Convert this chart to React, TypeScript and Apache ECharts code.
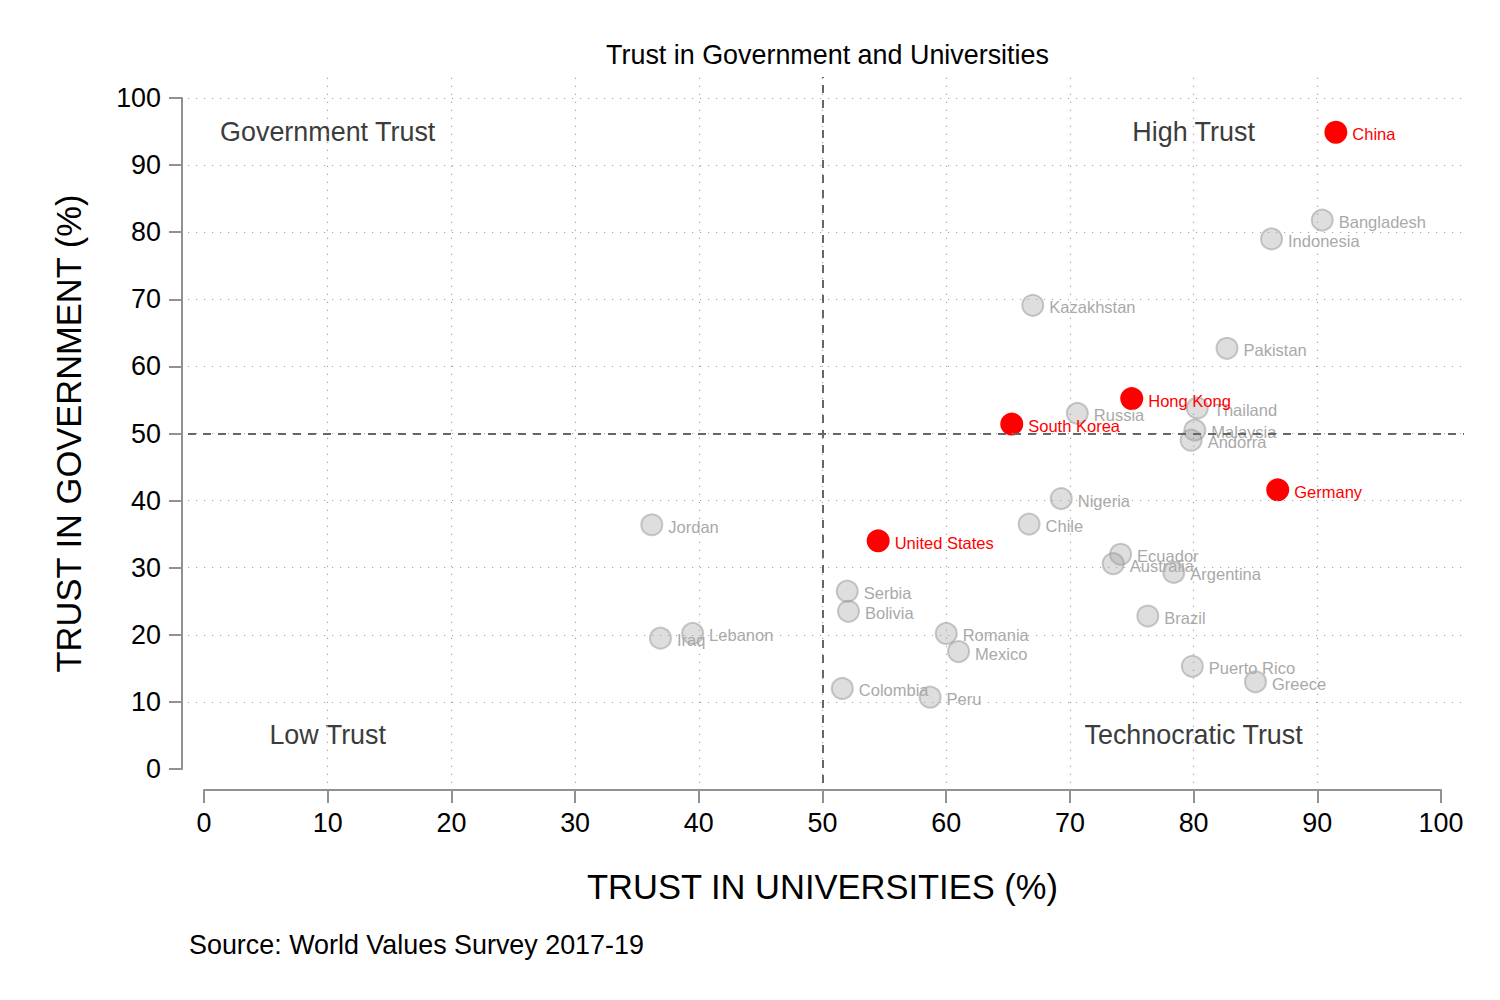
import React, { useEffect, useRef } from "react";
import * as echarts from "echarts";

// ---------- data ----------
const grayCountries = [
  "Bangladesh", "Indonesia", "Kazakhstan", "Pakistan", "Thailand", "Russia",
  "Malaysia", "Andorra", "Nigeria", "Jordan", "Chile", "Ecuador", "Australia",
  "Argentina", "Serbia", "Bolivia", "Brazil", "Lebanon", "Romania", "Iraq",
  "Mexico", "Puerto Rico", "Greece", "Colombia", "Peru",
];
const grayUniversities = [
  90.4, 86.3, 67.0, 82.7, 80.3, 70.6,
  80.1, 79.8, 69.3, 36.2, 66.7, 74.1, 73.5,
  78.4, 52.0, 52.1, 76.3, 39.5, 60.0, 36.9,
  61.0, 79.9, 85.0, 51.6, 58.7,
];
const grayGovernment = [
  81.8, 79.0, 69.1, 62.7, 53.8, 53.0,
  50.5, 49.0, 40.3, 36.4, 36.5, 32.0, 30.6,
  29.3, 26.5, 23.5, 22.8, 20.2, 20.2, 19.5,
  17.5, 15.3, 13.0, 12.0, 10.7,
];

const redCountries = ["China", "Hong Kong", "South Korea", "Germany", "United States"];
const redUniversities = [91.5, 75.0, 65.3, 86.8, 54.5];
const redGovernment = [94.9, 55.2, 51.4, 41.6, 34.0];

const quadrantNames = ["Government Trust", "High Trust", "Low Trust", "Technocratic Trust"];
const quadrantX = [10, 80, 10, 80];
const quadrantY = [95, 95, 5, 5];

const gridLinesX = [10, 20, 30, 40, 50, 60, 70, 80, 90];
const gridLinesY = [10, 20, 30, 40, 50, 60, 70, 80, 90, 100];
const referenceX = 50;
const referenceY = 50;

const titleText = "Trust in Government and Universities";
const xAxisTitle = "TRUST IN UNIVERSITIES (%)";
const yAxisTitle = "TRUST IN GOVERNMENT (%)";
const sourceText = "Source: World Values Survey 2017-19";

// ---------- layout ----------
const FONT = "'Liberation Sans', Arial, Helvetica, sans-serif";
const PLOT = { l: 204, r: 1441, t: 98, b: 769 };
const EXT = { l: 188, r: 1464, t: 77, b: 783 };
const pxX = (PLOT.r - PLOT.l) / 100;
const pxY = (PLOT.b - PLOT.t) / 100;
const extXMin = -(PLOT.l - EXT.l) / pxX;
const extXMax = 100 + (EXT.r - PLOT.r) / pxX;
const extYMin = -(EXT.b - PLOT.b) / pxY;
const extYMax = 100 + (PLOT.t - EXT.t) / pxY;
const AXIS_GRAY = "#919191";
const BIG = 26.9;

export default function App() {
  const ref = useRef<HTMLDivElement>(null);

  useEffect(() => {
    if (!ref.current) return;
    const chart = echarts.init(ref.current, undefined, { renderer: "svg" });

    const grayData = grayCountries.map((n, i) => ({
      name: n,
      value: [grayUniversities[i], grayGovernment[i]],
    }));
    const redData = redCountries.map((n, i) => ({
      name: n,
      value: [redUniversities[i], redGovernment[i]],
    }));
    const quadData = quadrantNames.map((n, i) => ({
      name: n,
      value: [quadrantX[i], quadrantY[i]],
    }));

    const dotted = { type: [1.2, 6.8] as any, color: "#a8a8a8", width: 1.2 };
    const dashed = { type: [8, 7] as any, color: "#666666", width: 2 };

    const option: any = {
      animation: false,
      backgroundColor: "#ffffff",
      textStyle: { fontFamily: FONT },
      title: {
        text: titleText,
        left: (PLOT.l + PLOT.r) / 2,
        textAlign: "center",
        top: 36,
        textStyle: { fontSize: BIG, fontWeight: "normal", color: "#000", fontFamily: FONT },
      },
      grid: [
        { left: PLOT.l, top: PLOT.t, width: PLOT.r - PLOT.l, height: PLOT.b - PLOT.t },
        { left: EXT.l, top: EXT.t, width: EXT.r - EXT.l, height: EXT.b - EXT.t },
      ],
      xAxis: [
        {
          gridIndex: 0,
          type: "value",
          min: 0,
          max: 100,
          interval: 10,
          offset: 21,
          axisLine: { show: true, onZero: false, lineStyle: { color: AXIS_GRAY, width: 2 } },
          axisTick: { show: true, length: 13, lineStyle: { color: AXIS_GRAY, width: 2 } },
          axisLabel: { margin: 19, fontSize: BIG, color: "#000", fontFamily: FONT },
          splitLine: { show: false },
          name: xAxisTitle,
          nameLocation: "middle",
          nameGap: 79,
          nameTextStyle: { fontSize: 34.5, color: "#000", fontFamily: FONT },
        },
        { gridIndex: 1, type: "value", min: extXMin, max: extXMax, show: false },
      ],
      yAxis: [
        {
          gridIndex: 0,
          type: "value",
          min: 0,
          max: 100,
          interval: 10,
          offset: 22,
          axisLine: { show: true, onZero: false, lineStyle: { color: AXIS_GRAY, width: 2 } },
          axisTick: { show: true, length: 13, lineStyle: { color: AXIS_GRAY, width: 2 } },
          axisLabel: { margin: 21, fontSize: BIG, color: "#000", fontFamily: FONT },
          splitLine: { show: false },
          name: yAxisTitle,
          nameLocation: "middle",
          nameGap: 96,
          nameTextStyle: { fontSize: 34.5, color: "#000", fontFamily: FONT },
        },
        { gridIndex: 1, type: "value", min: extYMin, max: extYMax, show: false },
      ],
      graphic: [
        {
          type: "text",
          left: 189,
          top: 931,
          style: { text: sourceText, fontSize: BIG, fill: "#000", fontFamily: FONT },
        },
      ],
      series: [
        {
          type: "line",
          xAxisIndex: 1,
          yAxisIndex: 1,
          data: [],
          silent: true,
          markLine: {
            silent: true,
            symbol: ["none", "none"],
            label: { show: false },
            emphasis: { disabled: true },
            animation: false,
            data: [
              ...gridLinesX.map((v) => ({ xAxis: v, lineStyle: dotted })),
              ...gridLinesY.map((v) => ({ yAxis: v, lineStyle: dotted })),
              { xAxis: referenceX, lineStyle: dashed },
              { yAxis: referenceY, lineStyle: dashed },
            ],
          },
        },
        {
          type: "scatter",
          name: "quadrants",
          xAxisIndex: 0,
          yAxisIndex: 0,
          data: quadData,
          symbolSize: 1,
          itemStyle: { color: "rgba(0,0,0,0)", opacity: 1 },
          silent: true,
          label: {
            show: true,
            position: "inside",
            formatter: "{b}",
            fontSize: BIG,
            color: "#3c3c3c",
            fontFamily: FONT,
          },
          emphasis: { disabled: true },
        },
        {
          type: "scatter",
          name: "others",
          xAxisIndex: 0,
          yAxisIndex: 0,
          data: grayData,
          symbolSize: 21,
          itemStyle: {
            color: "rgba(160,160,160,0.35)",
            borderColor: "rgba(150,150,150,0.5)",
            borderWidth: 2,
            opacity: 1,
          },
          label: {
            show: true,
            position: "right",
            distance: 5,
            offset: [0, 2],
            formatter: "{b}",
            fontSize: 16.5,
            color: "#a9a9a9",
            fontFamily: FONT,
          },
          emphasis: { disabled: true },
        },
        {
          type: "scatter",
          name: "highlight",
          xAxisIndex: 0,
          yAxisIndex: 0,
          data: redData,
          symbolSize: 23,
          itemStyle: { color: "#ff0000", opacity: 1 },
          label: {
            show: true,
            position: "right",
            distance: 5,
            offset: [0, 2],
            formatter: "{b}",
            fontSize: 16.5,
            color: "#ff0000",
            fontFamily: FONT,
          },
          emphasis: { disabled: true },
        },
      ],
    };

    chart.setOption(option);
    return () => chart.dispose();
  }, []);

  return (
    <div
      ref={ref}
      style={{ position: "absolute", left: 0, top: 0, width: 1500, height: 1000, background: "#fff" }}
    />
  );
}
